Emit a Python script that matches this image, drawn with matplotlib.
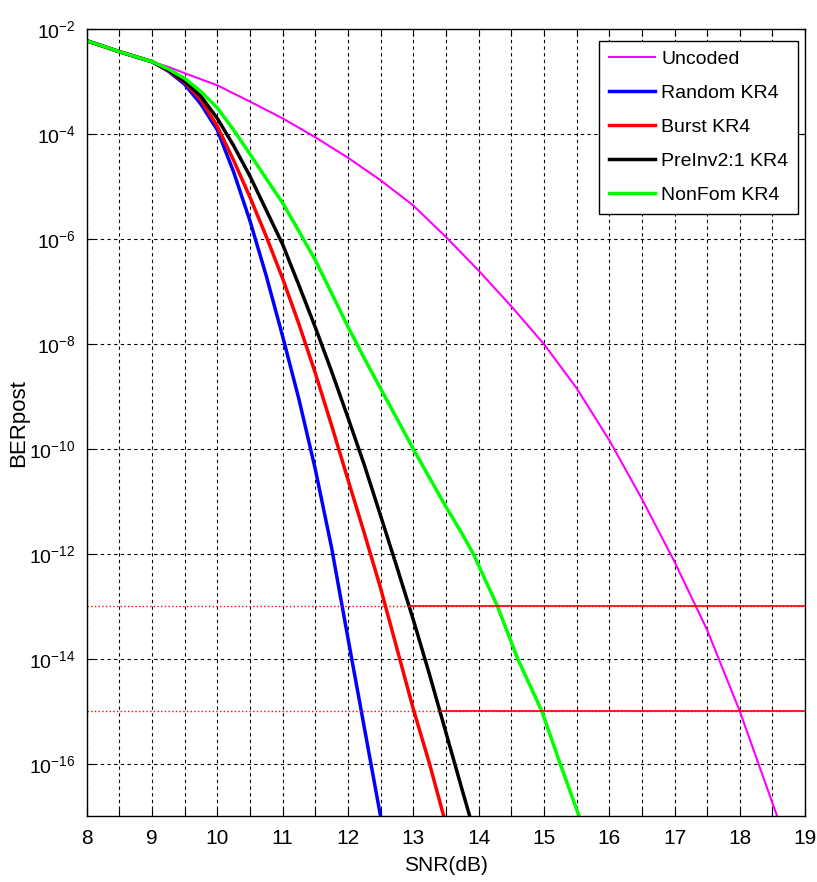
import numpy as np
import matplotlib
matplotlib.use('Agg')
import matplotlib.pyplot as plt
from matplotlib.ticker import MultipleLocator, FixedLocator, NullLocator, FuncFormatter

# values, BER given as log10
snrUncoded = [8, 8.5, 9, 9.25, 9.5, 10, 10.5, 11, 11.5, 12, 12.5, 13, 13.5, 14, 14.5,
              15, 15.5, 16, 16.5, 17, 17.5, 18, 18.5, 18.6]
logUncoded = [-2.22, -2.43, -2.62, -2.72, -2.84, -3.07, -3.38, -3.70, -4.06, -4.45, -4.88, -5.36,
              -5.96, -6.6, -7.28, -8.0, -8.84, -9.83, -10.95, -12.15, -13.45, -15.0, -16.75, -17.1]

snrRandom = [8, 8.5, 9, 9.25, 9.5, 9.75, 10, 10.25, 10.5, 10.75, 11, 11.25, 11.5, 11.75,
             12, 12.25, 12.5, 12.55]
logRandom = [-2.22, -2.43, -2.62, -2.8, -3.05, -3.43, -3.92, -4.72, -5.65, -6.7, -7.85, -9.05,
             -10.38, -11.88, -13.6, -15.3, -17.0, -17.3]

snrBurst = [8, 8.5, 9, 9.25, 9.5, 9.75, 10, 10.25, 10.5, 10.75, 11, 11.25, 11.5, 11.75, 12,
            12.25, 12.5, 12.75, 13, 13.25, 13.5]
logBurst = [-2.22, -2.43, -2.62, -2.79, -3.01, -3.35, -3.85, -4.5, -5.2, -5.95, -6.75, -7.62,
            -8.55, -9.55, -10.58, -11.6, -12.65, -13.8, -14.95, -16.0, -17.15]

snrPreInv = [8, 8.5, 9, 9.25, 9.5, 9.75, 10, 10.25, 10.5, 10.75, 11, 11.25, 11.5, 11.75, 12,
             12.25, 12.5, 12.75, 13, 13.25, 13.5, 13.75, 13.9]
logPreInv = [-2.22, -2.43, -2.62, -2.78, -2.99, -3.28, -3.7, -4.22, -4.8, -5.45, -6.1, -6.88,
             -7.68, -8.52, -9.4, -10.3, -11.27, -12.25, -13.25, -14.3, -15.4, -16.5, -17.15]

snrNonFom = [8, 8.5, 9, 9.25, 9.5, 9.75, 10, 10.25, 10.5, 10.75, 11, 11.25, 11.5, 11.75, 12,
             12.25, 12.5, 12.75, 13, 13.25, 13.5, 13.75, 13.92, 14.29, 14.6, 14.97, 15.25,
             15.54, 15.6]
logNonFom = [-2.22, -2.43, -2.62, -2.76, -2.94, -3.19, -3.5, -3.92, -4.38, -4.85, -5.31, -5.85,
             -6.4, -7.03, -7.67, -8.27, -8.85, -9.42, -10.0, -10.55, -11.1, -11.62, -12.0,
             -13.0, -14.0, -15.0, -16.0, -17.0, -17.2]

labels = ['Uncoded', 'Random KR4', 'Burst KR4', 'PreInv2:1 KR4', 'NonFom KR4']
colors = ['#ff00ff', '#0000ff', '#ff0000', '#000000', '#00ff00']

# red target lines, dotted all the way, solid from where the black curve crosses
targetBer = [1e-13, 1e-15]
solidFrom = [12.94, 13.41]

plt.rcParams['font.family'] = ['Liberation Sans', 'DejaVu Sans']
plt.rcParams['mathtext.fontset'] = 'custom'
plt.rcParams['mathtext.rm'] = 'Liberation Sans'
plt.rcParams['mathtext.it'] = 'Liberation Sans:italic'
plt.rcParams['mathtext.bf'] = 'Liberation Sans:bold'

fig = plt.figure(figsize=(8.17, 8.82), dpi=100)
ax = fig.add_axes([0.106, 0.0745, 0.8795, 0.8925])

series = [(snrUncoded, logUncoded), (snrRandom, logRandom), (snrBurst, logBurst),
          (snrPreInv, logPreInv), (snrNonFom, logNonFom)]
for i, (x, y) in enumerate(series):
    lw = 1.5 if i == 0 else 2.5
    ax.semilogy(x, np.power(10.0, y), color=colors[i], lw=lw, label=labels[i])

ax.hlines(targetBer, 8, 19, colors='r', linestyles=':', lw=1)
ax.hlines(targetBer, solidFrom, 19, colors='r', linestyles='-', lw=1.2)

ax.set_xlim(8, 19)
ax.set_ylim(1e-17, 1e-2)
ax.xaxis.set_major_locator(MultipleLocator(1))
ax.xaxis.set_minor_locator(MultipleLocator(0.5))
ax.yaxis.set_major_locator(FixedLocator(10.0 ** np.arange(-16, -1, 2)))
ax.yaxis.set_minor_locator(NullLocator())
ax.yaxis.set_major_formatter(FuncFormatter(lambda v, p: r'$10^{%d}$' % round(np.log10(v))))

gridStyle = dict(color='k', linestyle=(0, (3, 3)), linewidth=0.8)
ax.grid(True, which='both', axis='x', **gridStyle)
ax.grid(True, which='major', axis='y', **gridStyle)

ax.tick_params(which='both', direction='in', top=True, right=True, length=5, width=0.8,
               labelsize=14)
ax.tick_params(axis='x', labelsize=15, pad=9)
ax.tick_params(axis='y', pad=8)
for s in ax.spines.values():
    s.set_linewidth(1.0)

ax.set_xlabel('SNR(dB)', fontsize=15, va='top')
ax.xaxis.set_label_coords(0.5, -0.051)
ax.set_ylabel('BERpost', fontsize=16)
ax.yaxis.set_label_coords(-0.08, 0.5)

leg = ax.legend(loc='upper right', bbox_to_anchor=(0.99, 0.985), fontsize=14, fancybox=False,
                edgecolor='k', framealpha=1, handlelength=2.4, handletextpad=0.3,
                labelspacing=0.84, borderpad=0.5, borderaxespad=0)
leg.get_frame().set_linewidth(1.0)

fig.savefig('out.png', dpi=100)
